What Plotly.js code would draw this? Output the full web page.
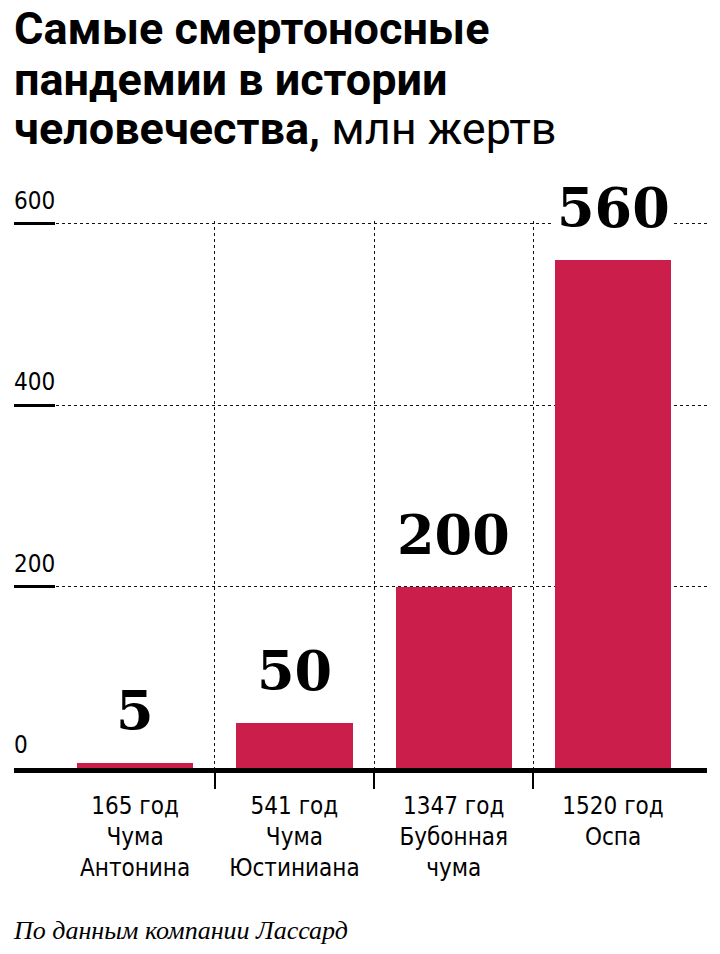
<!DOCTYPE html>
<html>
<head>
<meta charset="utf-8">
<script src="https://cdn.plot.ly/plotly-3.0.1.min.js"></script>
<style>
  html, body { margin: 0; padding: 0; background: #fff; }
  #chart { width: 720px; height: 954px; }
</style>
</head>
<body>
<div id="chart"></div>
<script>
// data
const years = ['165 год', '541 год', '1347 год', '1520 год'];
const names = ['Чума<br>Антонина', 'Чума<br>Юстиниана', 'Бубонная<br>чума', 'Оспа'];
const victims = [5, 50, 200, 560];
const yTicks = [0, 200, 400, 600];
const dividers = [0.5, 1.5, 2.5];

const barColor = '#cc1e4a';
const narrow = '"DejaVu Sans Condensed", "DejaVu Sans", sans-serif';

// plot area runs from y=221px down to y=768px (0); 600 sits at ~224px
const plotTop = 221, plotBottom = 768;
const py = p => (plotBottom - p) / (plotBottom - plotTop);

const positions = victims.map((_, i) => i);

const bars = {
    x: positions,
    y: victims,
    type: 'bar',
    width: 0.73,
    marker: { color: barColor },
    hoverinfo: 'skip',
    showlegend: false,
};

// invisible trace so the divider axis gets drawn
const dividerTrace = {
    x: dividers,
    y: dividers.map(() => 0),
    xaxis: 'x2',
    yaxis: 'y',
    type: 'scatter',
    mode: 'markers',
    marker: { size: 0.1, opacity: 0 },
    hoverinfo: 'skip',
    showlegend: false,
};

const valueLabels = victims.map((v, i) => ({
    x: i, y: v, xref: 'x', yref: 'y',
    text: String(v),
    showarrow: false,
    yanchor: 'bottom',
    yshift: 16,
    bgcolor: '#fff',
    borderpad: 3,
    font: { family: '"DejaVu Serif", "Liberation Serif", serif', size: 54, color: '#000', weight: 'bold' },
}));

// y tick labels sit above the short solid ticks, left aligned
const yTickLabels = yTicks.map(t => ({
    x: 0, xref: 'paper', xanchor: 'left', xshift: -2,
    y: t, yref: 'y', yanchor: 'bottom', yshift: 7,
    text: String(t), showarrow: false,
    font: { family: narrow, size: 24, color: '#000' },
}));

const titleLines = [
    { text: '<b>Самые смертоносные</b>', y: 28 },
    { text: '<b>пандемии в истории</b>', y: 79 },
    { text: '<b>человечества,</b> млн жертв', y: 129 },
];
const titleAnnotations = titleLines.map(l => ({
    x: 0, xref: 'paper', xanchor: 'left', xshift: -2,
    y: py(l.y), yref: 'paper', yanchor: 'middle',
    text: l.text, showarrow: false,
    font: { family: 'Roboto, "DejaVu Sans", sans-serif', size: 45, color: '#000' },
}));

const sourceNote = {
    x: 0, xref: 'paper', xanchor: 'left', xshift: -3,
    y: py(930), yref: 'paper', yanchor: 'middle',
    text: '<i>По данным компании Лассард</i>', showarrow: false,
    font: { family: '"Liberation Serif", "DejaVu Serif", serif', size: 26, color: '#000' },
};

const layout = {
    width: 720,
    height: 954,
    margin: { l: 14, r: 13, t: plotTop, b: 954 - plotBottom },
    paper_bgcolor: '#fff',
    plot_bgcolor: '#fff',
    bargap: 0,
    xaxis: {
        range: [-0.76, 3.59],
        tickvals: positions,
        ticktext: years.map((y, i) => y + '<br>' + names[i]),
        ticks: '',
        showgrid: false,
        zeroline: false,
        showline: true,
        linewidth: 5,
        linecolor: '#000',
        ticklabelstandoff: 12,
        tickfont: { family: narrow, size: 24, color: '#000' },
        fixedrange: true,
    },
    xaxis2: {
        overlaying: 'x',
        matches: 'x',
        anchor: 'y',
        side: 'bottom',
        tickvals: dividers,
        showticklabels: false,
        ticks: 'outside',
        ticklen: 20,
        tickwidth: 2,
        tickcolor: '#000',
        showgrid: true,
        griddash: 'dot',
        gridcolor: '#111',
        gridwidth: 1,
        zeroline: false,
        showline: false,
    },
    yaxis: {
        range: [0, 603],
        tickvals: yTicks,
        showticklabels: false,
        ticks: 'inside',
        ticklen: 41,
        tickwidth: 3,
        tickcolor: '#000',
        showgrid: true,
        griddash: 'dot',
        gridcolor: '#111',
        gridwidth: 1,
        zeroline: false,
        showline: false,
        fixedrange: true,
    },
    annotations: [...titleAnnotations, ...yTickLabels, ...valueLabels, sourceNote],
};

Plotly.newPlot('chart', [bars, dividerTrace], layout, { displayModeBar: false, staticPlot: true });
</script>
</body>
</html>
